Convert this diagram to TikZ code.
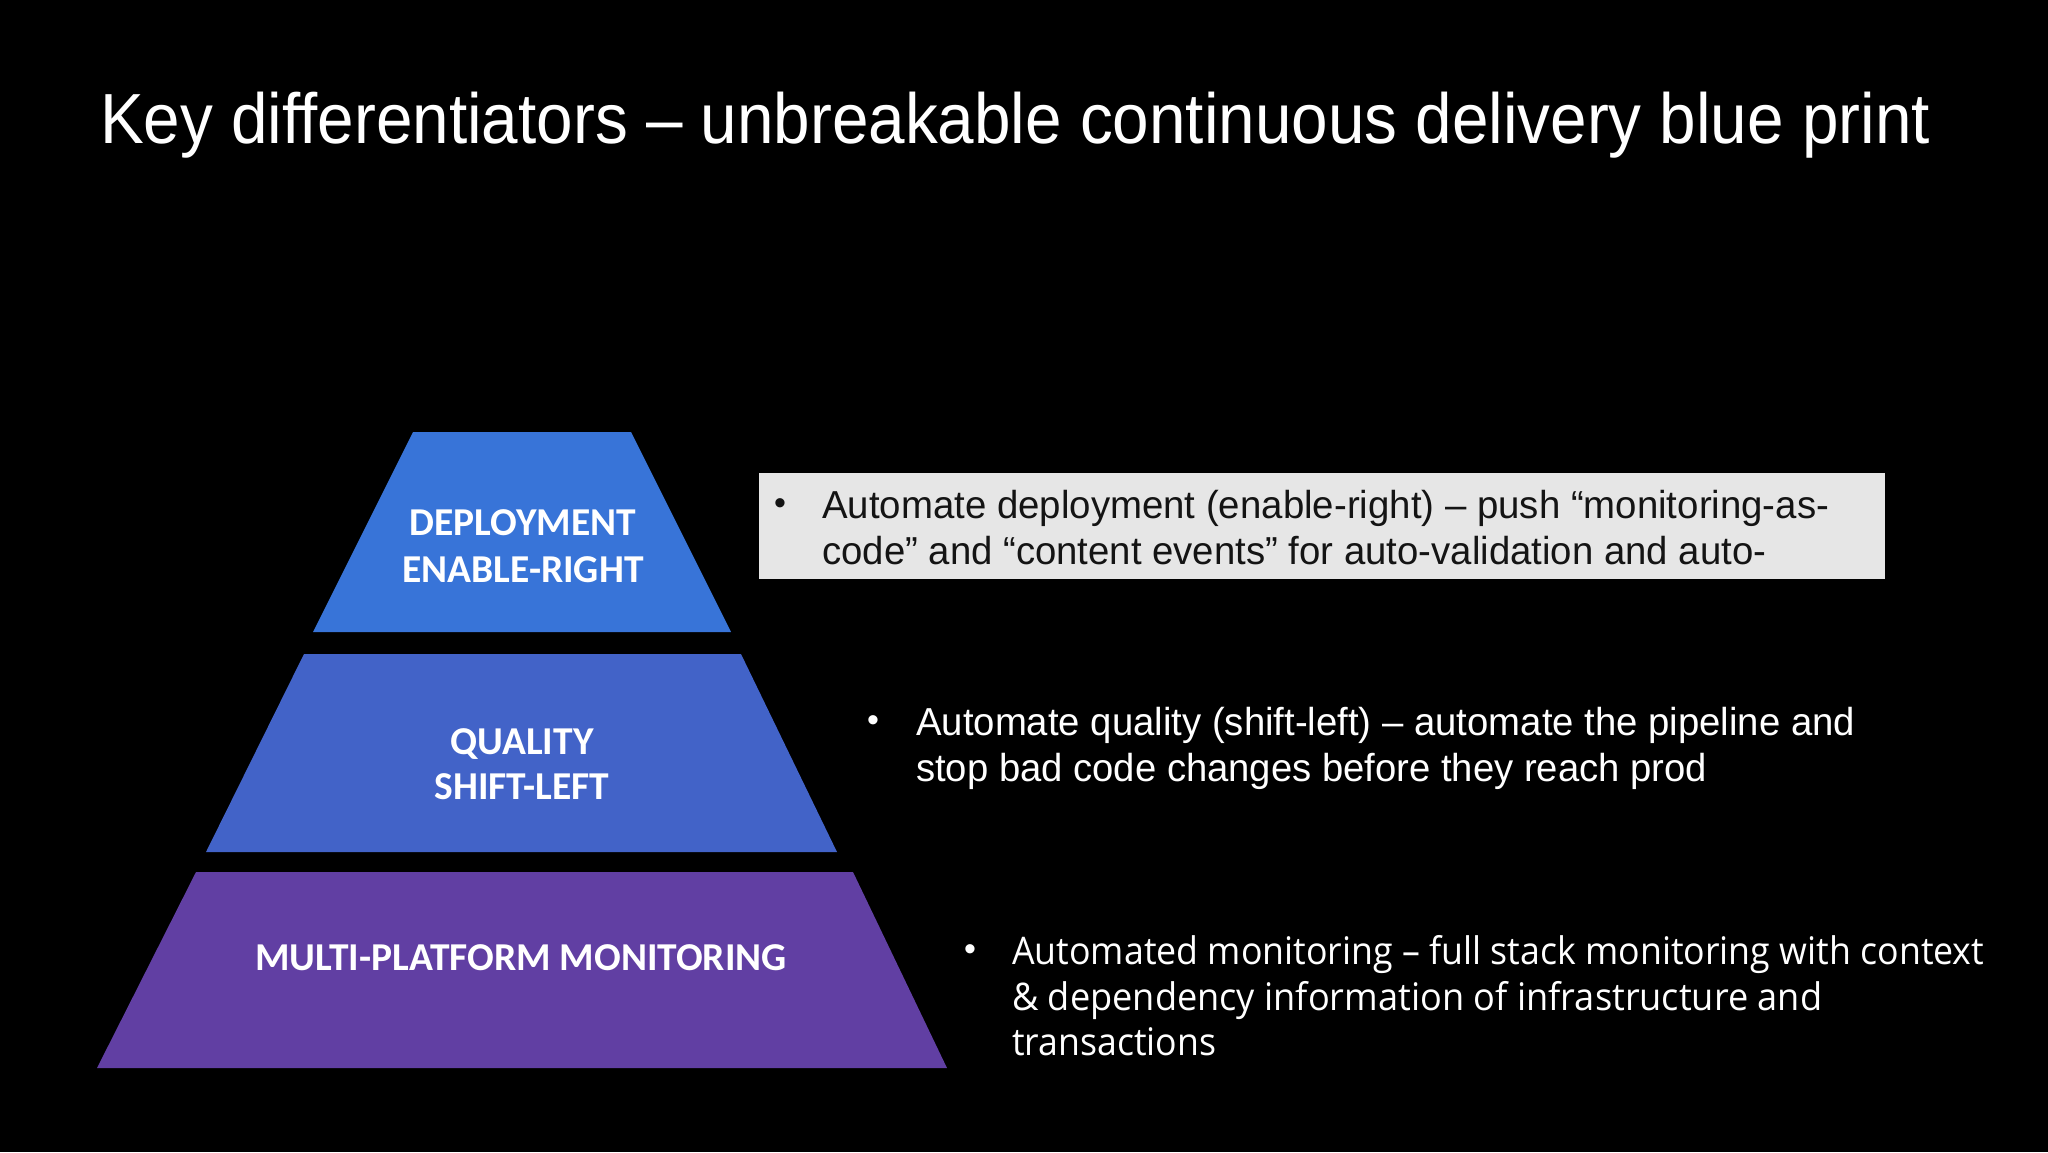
\documentclass[tikz,border=0pt]{standalone}
\usepackage{fontspec}
\usepackage{graphicx}
\setmainfont{Liberation Sans}
\newfontfamily\pyrfont{Carlito}
\newfontfamily\segfont{Open Sans}
\definecolor{tierA}{RGB}{56,116,216}
\definecolor{tierB}{RGB}{66,99,200}
\definecolor{tierC}{RGB}{97,63,163}
\definecolor{boxgray}{RGB}{230,230,230}
\definecolor{darktext}{RGB}{20,20,20}
\tikzset{
  titletext/.style={anchor=base west, inner sep=0pt, text=white, font=\fontsize{71}{80}\selectfont},
  pyrlabel/.style={anchor=base, inner sep=0pt, text=white, font=\pyrfont\bfseries\fontsize{39.5}{46}\selectfont},
  arialline/.style={anchor=base west, inner sep=0pt, font=\fontsize{39}{46}\selectfont},
  segline/.style={anchor=base west, inner sep=0pt, text=white, font=\segfont\fontsize{38}{46}\selectfont},
  bulletmark/.style={anchor=base, inner sep=0pt, font=\fontsize{34}{40}\selectfont}
}
\begin{document}
\begin{tikzpicture}[x=1pt,y=-1pt]
\useasboundingbox (0,0) rectangle (2048,1152);
\fill[black] (0,0) rectangle (2048,1152);
% title
\node[titletext] (title) at (100,143) {\resizebox{1830pt}{\height}{Key differentiators – unbreakable continuous delivery blue print}};
% pyramid
\fill[tierA] (413,432) -- (631,432) -- (731,632) -- (313,632) -- cycle;
\fill[tierB] (304,654) -- (741,654) -- (837,852) -- (206,852) -- cycle;
\fill[tierC] (196,872) -- (853,872) -- (947,1068) -- (97,1068) -- cycle;
\node[pyrlabel] (d1) at (523,535) {DEPLOYMENT};
\node[pyrlabel] (d2) at (523,582) {ENABLE-RIGHT};
\node[pyrlabel] (q1) at (522,754) {QUALITY};
\node[pyrlabel] (q2) at (522,799) {SHIFT-LEFT};
\node[pyrlabel] (m1) at (521,970) {MULTI-PLATFORM MONITORING};
% bullet 1 (gray box)
\fill[boxgray] (759,473) rectangle (1885,579);
\node[bulletmark, text=darktext] (b1) at (780,514) {•};
\node[arialline, text=darktext] (t1a) at (822,518) {\resizebox{1007pt}{\height}{Automate deployment (enable-right) – push “monitoring-as-}};
\node[arialline, text=darktext] (t1b) at (822,564) {\resizebox{944pt}{\height}{code” and “content events” for auto-validation and auto-}};
% bullet 2
\node[bulletmark, text=white] (b2) at (873,731) {•};
\node[arialline, text=white] (t2a) at (916,735) {\resizebox{939pt}{\height}{Automate quality (shift-left) – automate the pipeline and}};
\node[arialline, text=white] (t2b) at (916,781) {\resizebox{791pt}{\height}{stop bad code changes before they reach prod}};
% bullet 3
\node[bulletmark, text=white] (b3) at (970,960) {•};
\node[segline] (t3a) at (1012,964) {\resizebox{972pt}{\height}{Automated monitoring – full stack monitoring with context}};
\node[segline] (t3b) at (1012,1010) {\resizebox{810pt}{\height}{\& dependency information of infrastructure and}};
\node[segline] (t3c) at (1012,1055) {\resizebox{204pt}{\height}{transactions}};
\end{tikzpicture}
\end{document}
